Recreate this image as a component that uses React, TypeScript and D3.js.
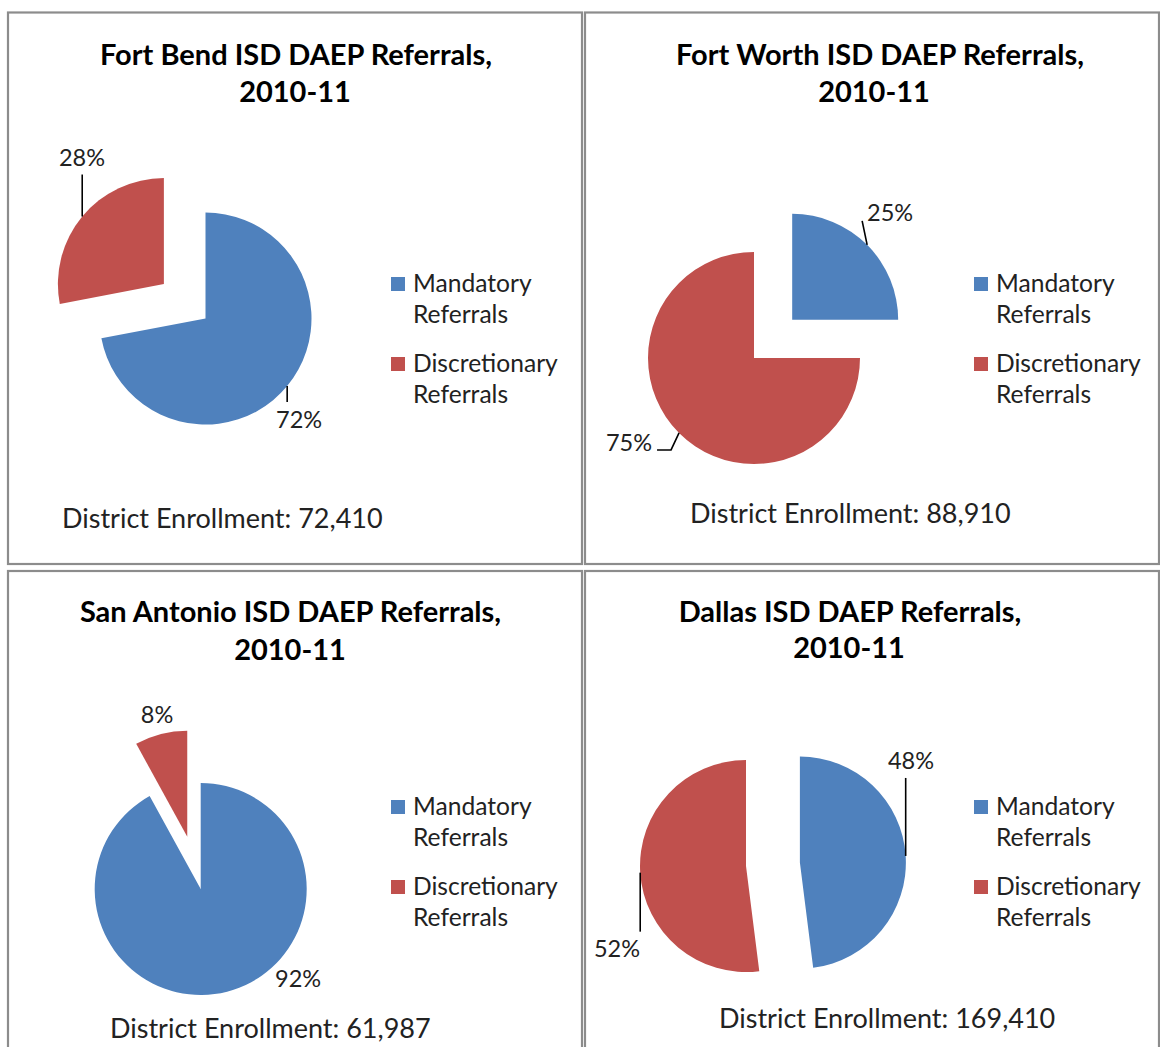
import { useEffect } from "react"
import * as d3 from "d3"

// chart data
const districts = ["Fort Bend ISD", "Fort Worth ISD", "San Antonio ISD", "Dallas ISD"]
const schoolYear = "2010-11"
const categories = ["Mandatory Referrals", "Discretionary Referrals"]
const mandatoryPct = [72, 25, 92, 48]
const discretionaryPct = [28, 75, 8, 52]
const enrollment = [72410, 88910, 61987, 169410]

const colors = ["#4f81bd", "#c0504d"]
const radius = 106
const explodeBy = 54
const font = "Lato, 'Open Sans', sans-serif"

// layout of each panel (page coordinates)
const layout = [
  {
    box: [8, 12.5], center: [205.5, 318.5], exploded: 1,
    title: [[296, 64.5], [295, 102]], legend: [391, 277], enroll: [62, 528],
    labels: [
      { pos: [276, 428], anchor: "start", leader: [[0, 16]] },
      { pos: [82, 166], anchor: "middle", leader: [[0, -42]] },
    ],
  },
  {
    box: [585, 12.5], center: [754, 358], exploded: 0,
    title: [[880, 64.5], [874, 102]], legend: [974, 277], enroll: [690, 523],
    labels: [
      { pos: [867, 221], anchor: "start", leader: [[-5, -24]] },
      { pos: [652, 451], anchor: "end", leader: [[-8, 17], [-22, 17]] },
    ],
  },
  {
    box: [8, 571], center: [200.7, 889], exploded: 1,
    title: [[290.5, 621.7], [290, 660]], legend: [391, 800], enroll: [110, 1038],
    labels: [
      { pos: [275, 987], anchor: "start", leader: [] },
      { pos: [157, 723], anchor: "middle", leader: [] },
    ],
  },
  {
    box: [585, 571], center: [746, 866], exploded: 0,
    title: [[850, 621.5], [849, 658]], legend: [974, 800], enroll: [719, 1028],
    labels: [
      { pos: [911, 769], anchor: "middle", leader: [[0, -78]] },
      { pos: [617, 957], anchor: "middle", leader: [[0, 59]] },
    ],
  },
]

const panelW = 574
const panelH = 551.5

export default function App() {
  useEffect(() => {
    document.body.style.margin = "0"
  }, [])

  const pie = d3
    .pie<number>()
    .sort(null)
    .value((d) => d)
  const arc = d3.arc<d3.PieArcDatum<number>>().innerRadius(0).outerRadius(radius)
  const fmt = d3.format(",")

  return (
    <svg width={1160} height={1047} style={{ display: "block", background: "#fff" }}>
      {districts.map((name, i) => {
        const L = layout[i]
        const slices = pie([mandatoryPct[i], discretionaryPct[i]])
        return (
          <g key={name}>
            <rect
              x={L.box[0]}
              y={L.box[1]}
              width={panelW}
              height={panelH}
              fill="#fff"
              stroke="#8c8c8c"
              strokeWidth={2.2}
            />
            <text fontFamily={font} fontWeight="bold" fontSize={29} textAnchor="middle" fill="#000">
              <tspan x={L.title[0][0]} y={L.title[0][1]}>{`${name} DAEP Referrals,`}</tspan>
              <tspan x={L.title[1][0]} y={L.title[1][1]}>{schoolYear}</tspan>
            </text>

            {slices.map((s, j) => {
              const mid = (s.startAngle + s.endAngle) / 2
              const dir = [Math.sin(mid), -Math.cos(mid)]
              const off = j === L.exploded ? explodeBy : 0
              const cx = L.center[0] + dir[0] * off
              const cy = L.center[1] + dir[1] * off
              const ax = cx + dir[0] * radius
              const ay = cy + dir[1] * radius
              const lab = L.labels[j]
              const pts = [[ax, ay], ...lab.leader.map((p) => [ax + p[0], ay + p[1]])]
              return (
                <g key={j}>
                  <path d={arc(s) ?? ""} transform={`translate(${cx},${cy})`} fill={colors[j]} />
                  {pts.length > 1 && (
                    <path d={d3.line()(pts as [number, number][]) ?? ""} fill="none" stroke="#000" strokeWidth={1.6} />
                  )}
                  <text
                    x={lab.pos[0]}
                    y={lab.pos[1]}
                    textAnchor={lab.anchor}
                    fontFamily={font}
                    fontSize={23.5}
                    fill="#222"
                  >
                    {`${s.data}%`}
                  </text>
                </g>
              )
            })}

            {categories.map((c, j) => {
              const words = c.split(" ")
              const top = L.legend[1] + j * 80
              return (
                <g key={c}>
                  <rect x={L.legend[0]} y={top} width={14} height={14} fill={colors[j]} />
                  <text fontFamily={font} fontSize={24.6} fill="#222">
                    <tspan x={L.legend[0] + 22} y={top + 14.7}>{words[0]}</tspan>
                    <tspan x={L.legend[0] + 22} y={top + 46}>{words[1]}</tspan>
                  </text>
                </g>
              )
            })}

            <text x={L.enroll[0]} y={L.enroll[1]} fontFamily={font} fontSize={27} fill="#222">
              {`District Enrollment: ${fmt(enrollment[i])}`}
            </text>
          </g>
        )
      })}
    </svg>
  )
}
